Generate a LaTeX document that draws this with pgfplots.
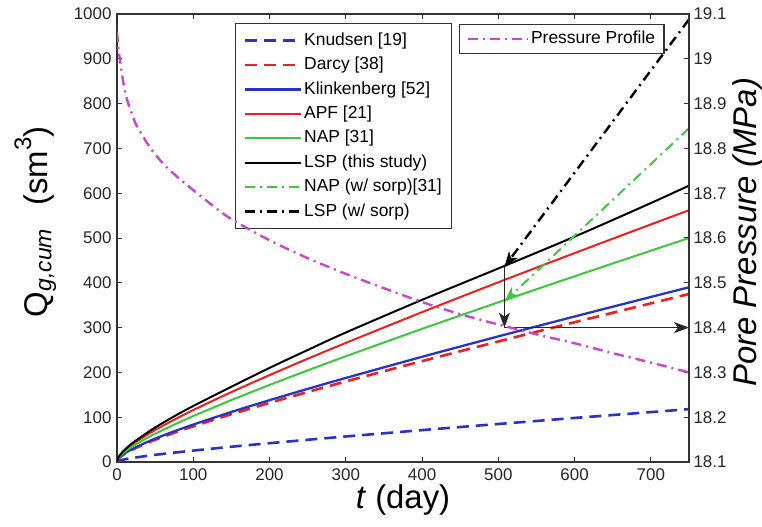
\documentclass[border=0pt]{standalone}
\usepackage{pgfplots}
\pgfplotsset{compat=1.18}
\usepackage{fontspec}
\setmainfont{Liberation Sans}
\usetikzlibrary{arrows.meta}

\definecolor{mblue}{RGB}{40,50,200}
\definecolor{mred}{RGB}{240,30,30}
\definecolor{mgreen}{RGB}{60,200,60}
\definecolor{mmag}{RGB}{200,70,200}

\tikzset{tip/.style={-{Stealth[length=15bp,width=11bp,inset=4bp]}}}

\begin{document}
\begin{tikzpicture}
\pgfplotsset{
  every axis/.append style={
    scale only axis, width=572bp, height=448bp,
    xmin=0, xmax=750,
    tick align=inside, major tick length=5bp,
    axis line style={black!80, line width=1.2bp},
    every tick/.style={black!80, line width=1bp},
    tick label style={font=\fontsize{17}{20}\selectfont, text=black!85},
    /pgf/number format/assume math mode=true,
    /pgf/number format/1000 sep={},
  },
}
\begin{axis}[
  name=main,
  ymin=0, ymax=1000,
  xtick={0,100,...,700},
  ytick={0,100,...,1000},
  xtick pos=both, ytick pos=left,
  xticklabel style={yshift=-3bp},
  yticklabel style={xshift=-2bp},
  xlabel={\textit{t} (day)},
  xlabel style={font=\fontsize{33}{36}\selectfont, at={(axis description cs:0.5,-0.085)}, anchor=center},
  ylabel={Q\textsubscript{\textit{g,cum}}\hspace{0.7em}(sm\raisebox{0.5em}{\fontsize{24}{24}\selectfont 3})},
  ylabel style={font=\fontsize{33}{36}\selectfont, at={(axis description cs:-0.143,0.536)}, anchor=center},
  legend cell align=left,
  legend image code/.code={\draw[#1] (0bp,0bp) -- (56bp,0bp);},
  legend style={
    at={(axis description cs:0.2063,0.98)}, anchor=north west,
    draw=black!80, line width=1.2bp, fill=white,
    font=\fontsize{17.5}{20}\selectfont,
    inner xsep=8bp, inner ysep=5bp, row sep=0bp,
    nodes={inner xsep=2bp, inner ysep=4.2bp, text height=12.5bp, text depth=3.5bp},
  },
]
% Knudsen [19]
\addplot[mblue, smooth, line width=2.6bp, dash pattern=on 12bp off 7bp] coordinates {
(0,0) (2,2.4) (5,3.9) (10,5.9) (20,8.9) (35,12.6) (50,16) (75,20.9) (100,25.5)
(150,34.1) (200,42) (250,49.6) (300,57) (400,71.2) (500,84.9) (600,98.3) (700,111.4) (750,118)};
% Darcy [38]
\addplot[mred, smooth, line width=2.6bp, dash pattern=on 12bp off 7bp] coordinates {
(0,0) (2,7.3) (5,12.1) (10,18.1) (20,27.5) (35,39.2) (50,49.6) (75,65.2) (100,79.7)
(150,106.7) (200,132) (250,156.3) (300,179.8) (400,225.2) (500,269.1) (600,312) (700,354.1) (750,375)};
% Klinkenberg [52]
\addplot[mblue, smooth, line width=2.3bp, line join=round] coordinates {
(0,0) (2,7.7) (5,12.8) (10,19.1) (20,29) (35,41.2) (50,52.1) (75,68.5) (100,83.5)
(150,111.7) (200,138) (250,163.2) (300,187.6) (400,234.8) (500,280.4) (600,324.8) (700,368.4) (750,390)};
% APF [21]
\addplot[mred, smooth, line width=2bp, line join=round] coordinates {
(0,0) (2,10.1) (5,17) (10,25.5) (20,39.2) (35,56.2) (50,71.4) (75,94.4) (100,116)
(150,156.1) (200,194) (250,230.5) (300,265.8) (400,334.5) (500,401.2) (600,466.3) (700,530.3) (750,562)};
% NAP [31]
\addplot[mgreen, smooth, line width=2bp, line join=round] coordinates {
(0,0) (2,8.9) (5,15) (10,22.5) (20,34.5) (35,49.6) (50,63) (75,83.5) (100,102.6)
(150,138.3) (200,172) (250,204.5) (300,236) (400,297.2) (500,356.5) (600,414.6) (700,471.7) (750,500)};
% LSP (this study)
\addplot[black, smooth, line width=2bp, line join=round] coordinates {
(0,0) (2,11) (5,18) (10,27) (20,42) (35,60) (50,77) (75,102) (100,125)
(150,168) (200,210) (250,250) (300,289) (400,362) (500,432) (600,503) (700,578) (750,617)};
% sorption cases, drawn as arrows onto the base curves
\addplot[mgreen, line width=2bp, dash pattern=on 10bp off 5bp on 2bp off 5bp,
  tip, forget plot] coordinates {(750,745) (508,358)};
\addplot[black, line width=2.4bp, dash pattern=on 10bp off 5bp on 2bp off 5bp,
  tip, forget plot] coordinates {(750,988) (508,436)};
% read-off of the pore pressure at t = 508 d
\addplot[black!85, line width=1.1bp, tip, forget plot]
  coordinates {(508,436) (508,300)};
\addplot[black!85, line width=1.1bp, tip, forget plot]
  coordinates {(508,300) (750,300)};
\addlegendimage{mgreen, line width=2bp, dash pattern=on 10bp off 5bp on 2bp off 5bp}
\addlegendimage{black, line width=2.4bp, dash pattern=on 10bp off 5bp on 2bp off 5bp}
\legend{Knudsen [19], Darcy [38], Klinkenberg [52], APF [21], NAP [31],
  LSP (this study), NAP (w/ sorp){[31]}, LSP (w/ sorp)}
\end{axis}

\begin{axis}[
  ymin=18.1, ymax=19.1,
  axis y line*=right, axis x line=none,
  ytick={18.1,18.2,18.3,18.4,18.5,18.6,18.7,18.8,18.9,19.0,19.1},
  yticklabels={18.1,18.2,18.3,18.4,18.5,18.6,18.7,18.8,18.9,19,19.1},
  yticklabel style={xshift=1bp},
  ylabel={\textit{Pore Pressure (MPa)}},
  ylabel style={font=\fontsize{33}{36}\selectfont, at={(axis description cs:1.103,0.513)}, anchor=center},
  legend cell align=left,
  legend image code/.code={\draw[#1] (0bp,0bp) -- (60bp,0bp);},
  legend style={
    at={(axis description cs:0.598,0.978)}, anchor=north west,
    draw=black!80, line width=1.2bp, fill=white,
    font=\fontsize{17.5}{20}\selectfont,
    inner xsep=7bp, inner ysep=2.3bp,
    nodes={inner xsep=2bp, inner ysep=4.2bp, text height=12.5bp, text depth=3.5bp},
  },
]
\addplot[mmag, smooth, line width=2.4bp, dash pattern=on 10bp off 5bp on 2bp off 5bp, line join=round] coordinates {
(0,19.06) (2,19.02) (4,18.997) (8,18.95) (13,18.91) (20,18.875) (26,18.85) (43,18.803)
(60,18.767) (80,18.735) (100,18.707) (131,18.665) (152,18.64) (200,18.595) (250,18.555)
(300,18.52) (350,18.488) (400,18.457) (450,18.43) (500,18.407) (550,18.385) (600,18.365)
(650,18.343) (700,18.322) (750,18.30)};
\addlegendentry{Pressure Profile}
\end{axis}

\pgfresetboundingbox
\path[use as bounding box] ([xshift=-117bp,yshift=-64bp]main.south west)
  rectangle ([xshift=73bp,yshift=14bp]main.north east);
\end{tikzpicture}
\end{document}
